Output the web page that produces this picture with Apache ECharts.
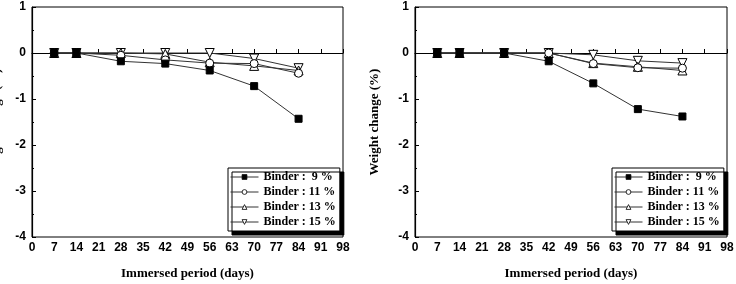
<!DOCTYPE html>
<html>
<head>
    <meta charset="utf-8">
    <title>Weight change</title>
    <script src="https://cdn.jsdelivr.net/npm/echarts@6/dist/echarts.min.js"></script>
</head>
<body>
<div id="main"></div>
<style type="text/css">
    html, body {
        margin: 0px;
        padding: 0px;
        background: #fff
    }

    #main {
        width: 736px;
        height: 284px
    }
</style>

<script type="text/javascript">
    // immersion days (x) and weight change (%) per binder content
    var days = [7, 14, 28, 42, 56, 70, 84];
    var names = ['Binder :  9 %', 'Binder : 11 %', 'Binder : 13 %', 'Binder : 15 %'];

    // left panel
    var left9 = [0, 0, -0.18, -0.23, -0.38, -0.72, -1.43];
    var left11 = [0, 0, -0.05, -0.15, -0.22, -0.23, -0.44];
    var left13 = [0, 0, 0, -0.02, -0.2, -0.28, -0.38];
    var left15 = [0, 0, 0, 0, 0, -0.12, -0.33];

    // right panel
    var right9 = [0, 0, 0, -0.18, -0.66, -1.22, -1.38];
    var right11 = [0, 0, 0, 0, -0.23, -0.32, -0.33];
    var right13 = [0, 0, 0, 0, -0.22, -0.3, -0.38];
    var right15 = [0, 0, 0, 0, -0.04, -0.17, -0.22];

    var myChart = echarts.init(document.getElementById('main'));

    var pairs = function (vals) {
        var res = [];
        for (var i = 0; i < days.length; i++) {
            res.push([days[i], vals[i]]);
        }
        return res;
    };

    var styles = [
        {symbol: 'rect', size: 7, fill: '#000', rotate: 0},
        {symbol: 'circle', size: 8, fill: '#fff', rotate: 0},
        {symbol: 'triangle', size: 9, fill: '#fff', rotate: 0},
        {symbol: 'triangle', size: 9, fill: '#fff', rotate: 180}
    ];

    var makeSeries = function (idx, data, k) {
        var s = styles[k];
        return {
            name: names[k],
            type: 'line',
            xAxisIndex: idx,
            yAxisIndex: idx,
            data: pairs(data),
            symbol: s.symbol,
            symbolSize: s.size,
            symbolRotate: s.rotate,
            showAllSymbol: true,
            z: 10 - k,
            lineStyle: {color: '#333', width: 1},
            itemStyle: {color: s.fill, borderColor: '#000', borderWidth: 1},
            emphasis: {disabled: true}
        };
    };

    var tickFont = {color: '#000', fontFamily: 'Liberation Sans', fontWeight: 'bold', fontSize: 12};
    var titleFont = {color: '#000', fontFamily: 'Liberation Serif', fontWeight: 'bold', fontSize: 13};
    var legendFont = {color: '#000', fontFamily: 'Liberation Serif', fontWeight: 'bold', fontSize: 12};

    var makeX = function (idx) {
        return {
            type: 'value', gridIndex: idx, min: 0, max: 98, interval: 7,
            name: 'Immersed period (days)', nameLocation: 'middle', nameGap: 30,
            nameTextStyle: titleFont,
            axisLine: {lineStyle: {color: '#000', width: 1.2}},
            axisTick: {inside: true, length: 4, lineStyle: {color: '#000'}},
            axisLabel: Object.assign({margin: 5}, tickFont),
            splitLine: {show: false}
        };
    };

    var makeY = function (idx, gap) {
        return {
            type: 'value', gridIndex: idx, min: -4, max: 1, interval: 1,
            name: 'Weight change (%)', nameLocation: 'middle', nameGap: gap,
            nameTextStyle: titleFont,
            axisLine: {onZero: false, lineStyle: {color: '#000', width: 1.2}},
            axisTick: {inside: true, length: 4, lineStyle: {color: '#000'}},
            minorTick: {show: true, splitNumber: 2, length: 2, lineStyle: {color: '#000'}},
            axisLabel: Object.assign({margin: 6}, tickFont),
            splitLine: {show: false}
        };
    };

    var makeLegend = function (idx, left) {
        return {
            orient: 'vertical',
            left: left, top: 168,
            data: names.map(function (n) { return {name: n}; }),
            itemWidth: 28, itemHeight: 6, itemGap: 3,
            itemStyle: {borderWidth: 0.8},
            lineStyle: {width: 1, color: '#333'},
            padding: [3, 4, 3, 2],
            backgroundColor: '#fff',
            borderColor: '#000', borderWidth: 1, borderRadius: 0,
            shadowColor: '#000', shadowBlur: 0, shadowOffsetX: 4, shadowOffsetY: 4,
            textStyle: legendFont,
            selectedMode: false
        };
    };

    option = {
        backgroundColor: '#fff',
        animation: false,
        grid: [
            {left: 32, top: 7, width: 311, height: 230, outerBoundsMode: 'none', containLabel: false,
                show: true, borderColor: '#000', borderWidth: 1},
            {left: 415, top: 7, width: 312, height: 230, outerBoundsMode: 'none', containLabel: false,
                show: true, borderColor: '#000', borderWidth: 1}
        ],
        xAxis: [makeX(0), makeX(1)],
        yAxis: [makeY(0, 29), makeY(1, 34)],
        legend: [makeLegend(0, 228), makeLegend(1, 612)],
        series: [
            makeSeries(0, left9, 0), makeSeries(0, left11, 1), makeSeries(0, left13, 2), makeSeries(0, left15, 3),
            makeSeries(1, right9, 0), makeSeries(1, right11, 1), makeSeries(1, right13, 2), makeSeries(1, right15, 3)
        ]
    };

    myChart.setOption(option);
</script>
</body>
</html>
